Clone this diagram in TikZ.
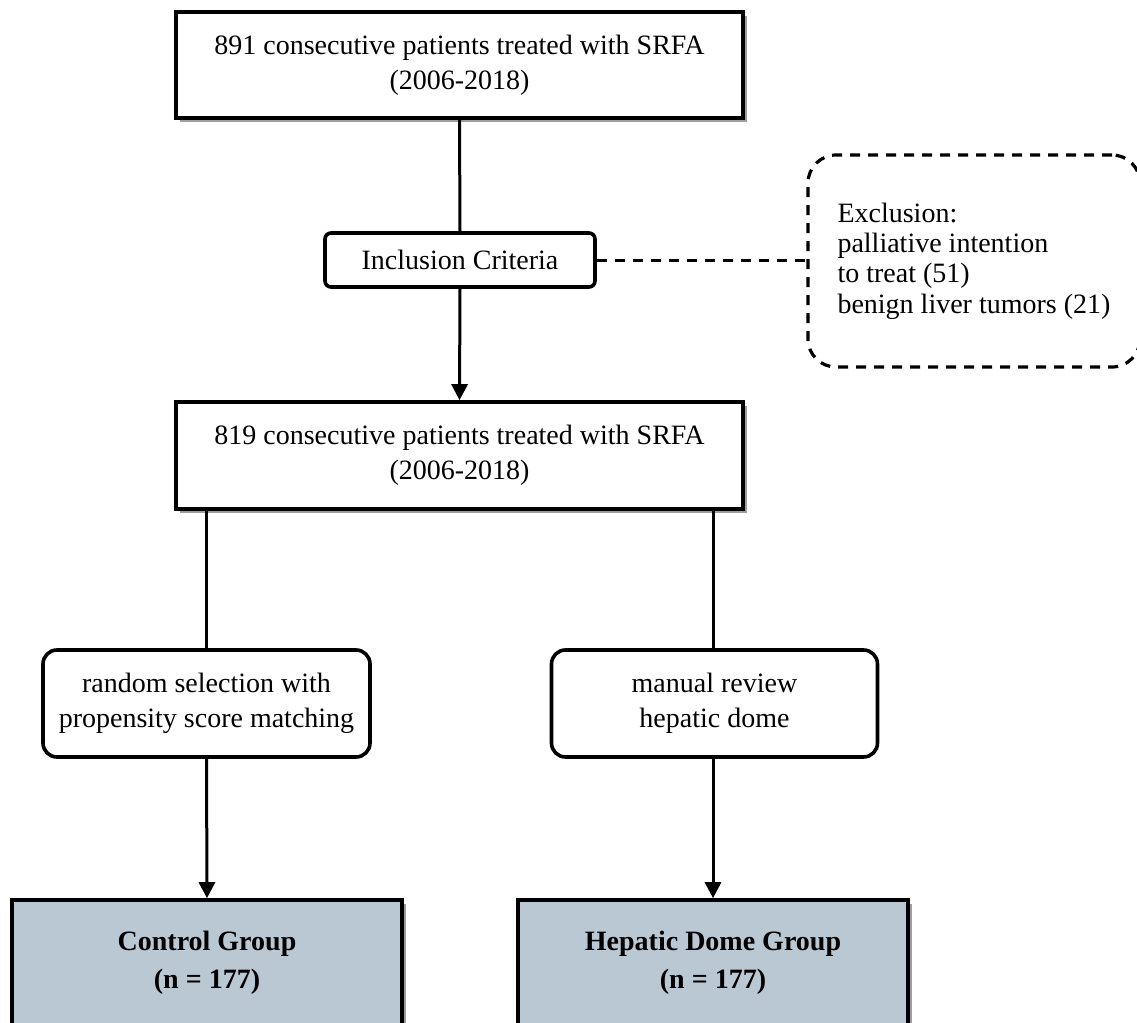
\documentclass[tikz,border=0pt]{standalone}
\usepackage{fontspec}
\setmainfont{Liberation Serif}
\usetikzlibrary{arrows.meta,shadows}
\definecolor{groupfill}{RGB}{186,200,212}
\begin{document}
\begin{tikzpicture}[x=0.5pt,y=-0.5pt,
  font=\fontsize{14}{17.3}\selectfont,
  mainbox/.style={draw,line width=1.8pt,fill=white,align=center,inner sep=0pt,
    drop shadow={shadow xshift=2pt,shadow yshift=-2pt,fill=black!38,opacity=1}},
  roundbox/.style={draw,line width=1.8pt,fill=white,align=center,inner sep=0pt,rounded corners=7pt},
  groupbox/.style={mainbox,fill=groupfill,font=\fontsize{14}{14}\selectfont\bfseries},
  exclbox/.style={draw,line width=1.6pt,dash pattern=on 5pt off 4pt,rounded corners=14pt,align=left,inner sep=0pt,
    font=\fontsize{14}{15.2}\selectfont},
  conn/.style={line width=1.5pt},
  arr/.style={conn,-{Triangle[length=8pt,width=8pt]}},
  dashconn/.style={line width=1.5pt,dash pattern=on 5pt off 4pt}]
\useasboundingbox (0,0) rectangle (1137,1023);
\node[mainbox,minimum width=283.5pt,minimum height=53pt] (top) at (459.5,65)
  {891 consecutive patients treated with SRFA\\(2006-2018)};
\node[roundbox,rounded corners=3pt,minimum width=135pt,minimum height=27pt] (incl) at (460,260)
  {Inclusion Criteria};
\node[exclbox,minimum width=166pt,minimum height=106pt] (excl) at (974,261)
  {Exclusion:\\palliative intention\\to treat (51)\\benign liver tumors (21)};
\node[mainbox,minimum width=283.5pt,minimum height=53.5pt] (mid) at (459.5,455.5)
  {819 consecutive patients treated with SRFA\\(2006-2018)};
\node[roundbox,minimum width=163.5pt,minimum height=53.5pt] (rl) at (206.5,703.5)
  {random selection with\\propensity score matching};
\node[roundbox,minimum width=163pt,minimum height=53.5pt] (rr) at (714.5,703.5)
  {manual review\\hepatic dome};
\node[groupbox,minimum width=195pt,minimum height=63pt] (ctrl) at (207,963)
  {Control Group\\[5pt](n = 177)};
\node[groupbox,minimum width=195pt,minimum height=63pt] (dome) at (713,963)
  {Hepatic Dome Group\\[5pt](n = 177)};
\draw[conn] (top.south) -- (incl.north);
\draw[arr] (incl.south) -- (mid.north);
\draw[dashconn] (incl.east) -- (incl.east -| excl.west);
\draw[conn] (mid.south -| rl.north) -- (rl.north);
\draw[conn] (mid.south -| 713,0) -- (rr.north -| 713,0);
\draw[arr] (rl.south) -- (ctrl.north);
\draw[arr] (rr.south -| 713,0) -- (dome.north);
\end{tikzpicture}
\end{document}
